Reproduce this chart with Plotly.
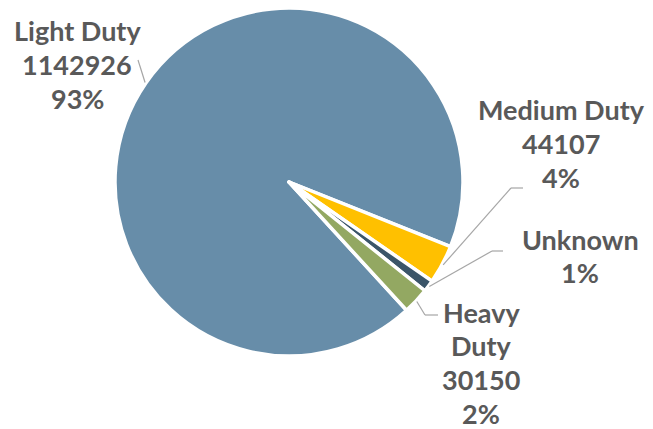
import math
import plotly.graph_objects as go

# Vehicle counts by duty class
categories = ["Light Duty", "Medium Duty", "Unknown", "Heavy Duty"]
counts = [1142926, 44107, 13500, 30150]
colors = ["#678DA9", "#FFC000", "#3B5569", "#93A862"]
show_count = [True, True, False, True]
label_lines = [["Light Duty"], ["Medium Duty"], ["Unknown"], ["Heavy", "Duty"]]

W, H = 653, 429
cx, cy, R = 289, 182, 174          # pie centre and radius in pixels
rotation = 137.5                   # start angle, clockwise from 12 o'clock

fig = go.Figure(go.Pie(
    labels=categories,
    values=counts,
    sort=False,
    direction="clockwise",
    rotation=rotation,
    marker=dict(colors=colors, line=dict(color="white", width=3.5)),
    textinfo="none",
    textposition="none",
    hoverinfo="label+value+percent",
    domain=dict(x=[(cx - R) / W, (cx + R) / W],
                y=[(H - cy - R) / H, (H - cy + R) / H]),
))

total = sum(counts)

# label blocks: centre x and first-line y (pixels), line pitch
label_pos = [(77, 31), (561, 110), (580, 239), (481, 312)]
line_pitch = 33.7
# leader-line elbows (pixels)
elbows = [[(138, 60)], [(511, 188), (523, 188)], [(492, 251), (503, 251)],
          [(425, 315), (438, 315)]]

def px_to_paper(x, y):
    return x / W, 1 - y / H

shapes = []
annotations = []
angle = rotation
for i, v in enumerate(counts):
    sweep = v / total * 360
    mid = math.radians(angle + sweep / 2)
    angle += sweep
    ax, ay = cx + (R + 1) * math.sin(mid), cy - (R + 1) * math.cos(mid)
    pts = [(ax, ay)] + elbows[i]
    for (x0, y0), (x1, y1) in zip(pts[:-1], pts[1:]):
        p0 = px_to_paper(x0, y0)
        p1 = px_to_paper(x1, y1)
        shapes.append(dict(type="line", xref="paper", yref="paper",
                           x0=p0[0], y0=p0[1], x1=p1[0], y1=p1[1],
                           line=dict(color="#A6A6A6", width=1.2)))
    lines = list(label_lines[i])
    if show_count[i]:
        lines.append(str(v))
    lines.append(f"{round(v / total * 100)}%")
    bx, by = label_pos[i]
    for k, s in enumerate(lines):
        lx, ly = px_to_paper(bx, by + k * line_pitch)
        annotations.append(dict(
            text=f"<b>{s}</b>",
            x=lx, y=ly, xref="paper", yref="paper",
            xanchor="center", yanchor="middle", showarrow=False,
            borderpad=0,
            font=dict(family="Lato", size=27, color="#595959"),
        ))

fig.update_layout(
    width=W, height=H,
    margin=dict(l=0, r=0, t=0, b=0),
    paper_bgcolor="white",
    plot_bgcolor="white",
    showlegend=False,
    shapes=shapes,
    annotations=annotations,
)

fig.write_html("out.html")
